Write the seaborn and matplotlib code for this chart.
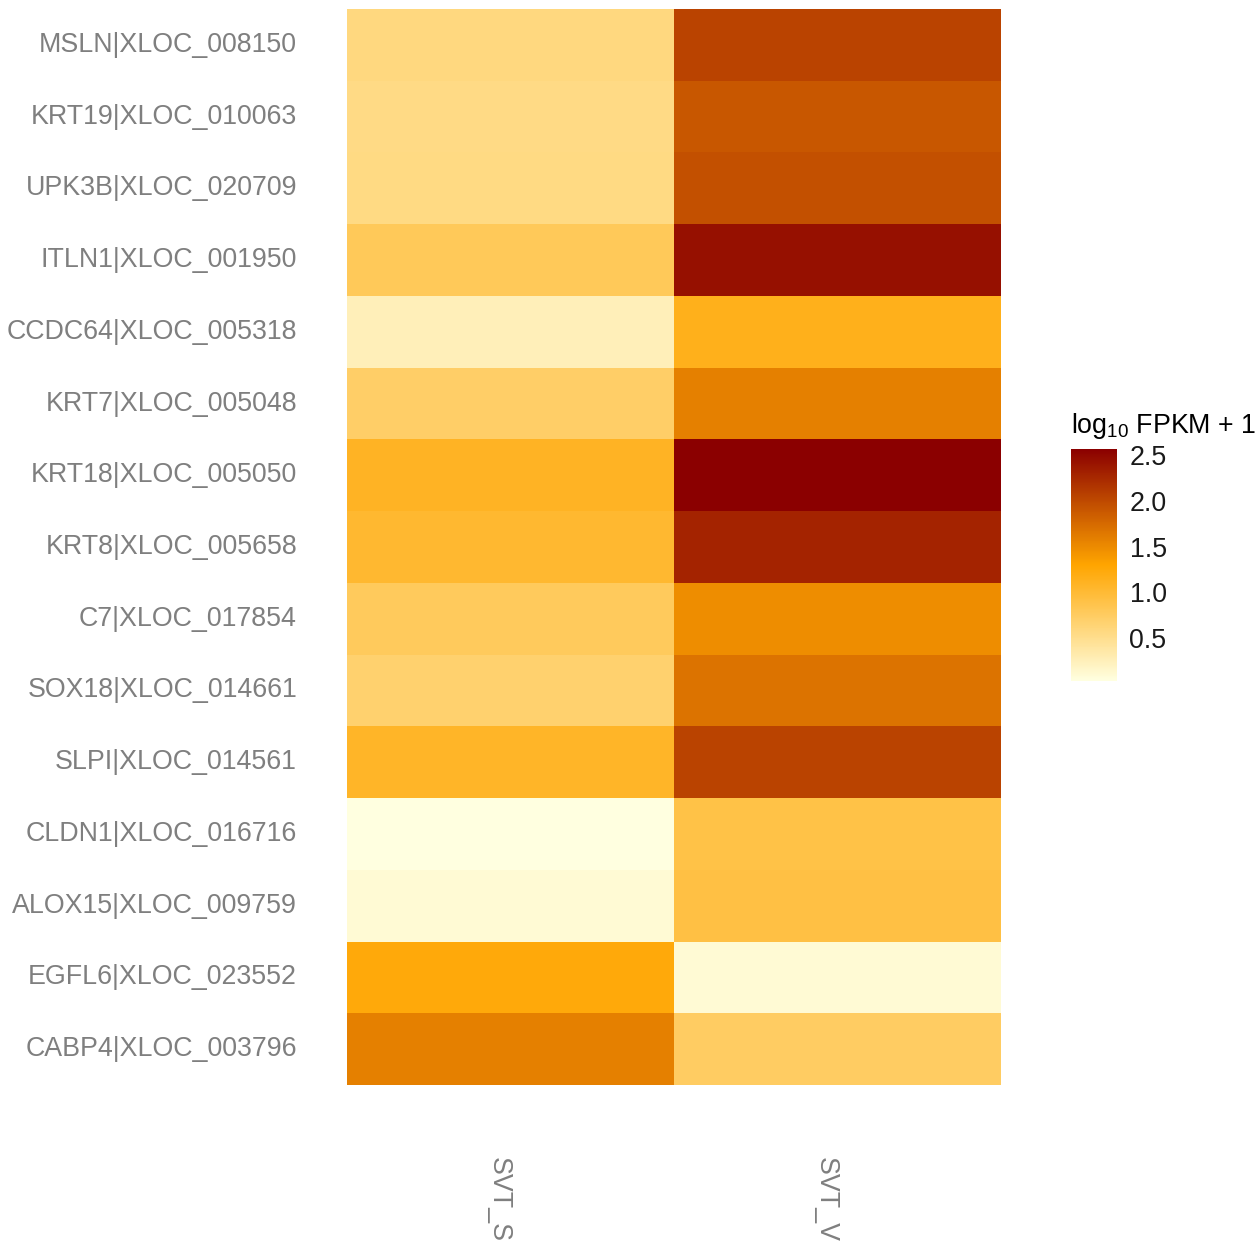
import numpy as np
import pandas as pd
import matplotlib
matplotlib.use('Agg')
import matplotlib.pyplot as plt
import matplotlib.transforms as mtransforms
import seaborn as sns
from matplotlib.colors import LinearSegmentedColormap

sns.set_theme(style='white')
plt.rcParams['font.family'] = ['Liberation Sans', 'DejaVu Sans']
plt.rcParams['mathtext.fontset'] = 'custom'
plt.rcParams['mathtext.rm'] = 'Liberation Sans'

# genes (top to bottom) and samples
genes = ['MSLN|XLOC_008150', 'KRT19|XLOC_010063', 'UPK3B|XLOC_020709',
         'ITLN1|XLOC_001950', 'CCDC64|XLOC_005318', 'KRT7|XLOC_005048',
         'KRT18|XLOC_005050', 'KRT8|XLOC_005658', 'C7|XLOC_017854',
         'SOX18|XLOC_014661', 'SLPI|XLOC_014561', 'CLDN1|XLOC_016716',
         'ALOX15|XLOC_009759', 'EGFL6|XLOC_023552', 'CABP4|XLOC_003796']
samples = ['SVT_S', 'SVT_V']

# log10(FPKM + 1)
svt_s = [0.58, 0.55, 0.56, 0.80, 0.25, 0.72, 1.10, 1.03, 0.78, 0.68,
         1.08, 0.03, 0.10, 1.25, 1.58]
svt_v = [2.05, 1.90, 1.95, 2.45, 1.15, 1.58, 2.57, 2.30, 1.48, 1.68,
         2.05, 0.90, 0.92, 0.10, 0.75]

df = pd.DataFrame({'SVT_S': svt_s, 'SVT_V': svt_v}, index=genes)

cmap = LinearSegmentedColormap.from_list('fpkm', ['#FFFFE0', '#FFA500', '#8B0000'])

W, H = 1255, 1243
fig = plt.figure(figsize=(W / 100, H / 100), dpi=100)
ax = fig.add_axes([347 / W, (H - 1085) / H, 654 / W, 1076 / H])
cax = fig.add_axes([1071 / W, (H - 681) / H, 46 / W, 232 / H])

sns.heatmap(df, ax=ax, cbar_ax=cax, cmap=cmap,
            vmin=min(svt_s + svt_v), vmax=max(svt_s + svt_v),
            linewidths=0)

fs = 19.3
ax.tick_params(axis='y', length=0, pad=36, labelsize=fs, labelcolor='#7f7f7f')
ax.tick_params(axis='x', length=0, pad=52, labelsize=fs, labelcolor='#7f7f7f')
plt.setp(ax.get_yticklabels(), rotation=0)
plt.setp(ax.get_xticklabels(), rotation=270, va='top')
# ggplot puts the rotated labels a bit left of the column centre
shift = mtransforms.ScaledTranslation(-12 / 100, 0, fig.dpi_scale_trans)
for lbl in ax.get_xticklabels():
    lbl.set_transform(lbl.get_transform() + shift)
ax.set_xlabel('')
ax.set_ylabel('')

cax.set_yticks([0.5, 1.0, 1.5, 2.0, 2.5])
cax.set_yticklabels(['0.5', '1.0', '1.5', '2.0', '2.5'])
cax.tick_params(axis='y', which='both', direction='in', left=True, right=True,
                length=6, width=1, color='white', labelsize=fs,
                labelcolor='#1a1a1a', pad=9)
for s in cax.spines.values():
    s.set_visible(False)
cax.text(0, 1.035, r'$\mathregular{log_{10}}$ FPKM + 1', transform=cax.transAxes,
         ha='left', va='bottom', fontsize=fs, color='black')

fig.savefig('out.png', dpi=100, facecolor='white')
